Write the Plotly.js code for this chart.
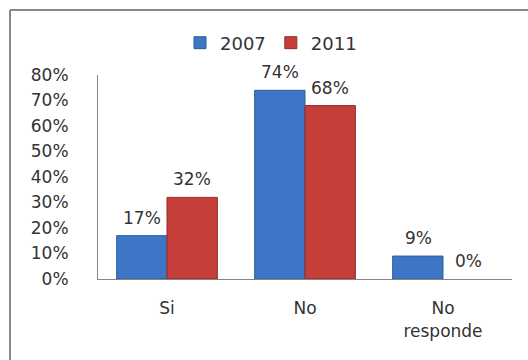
<!DOCTYPE html>
<html>
<head>
<meta charset="utf-8">
<script src="https://cdn.plot.ly/plotly-3.0.1.min.js"></script>
<style>html,body{margin:0;padding:0;background:#fff;}#chart{width:528px;height:360px;}</style>
</head>
<body>
<div id="chart"></div>
<script>
const categories = ["Si", "No", "No<br>responde"];
const seriesNames = ["2007", "2011"];
const values2007 = [0.17, 0.74, 0.09];
const values2011 = [0.32, 0.68, 0.00];
const yTickVals = [0, 0.1, 0.2, 0.3, 0.4, 0.5, 0.6, 0.7, 0.8];

const fontFam = "DejaVu Sans, sans-serif";
const txtCol = "#333333";

function pct(v){ return Math.round(v*100) + "%"; }

const traces = [
  {type:"bar", name:seriesNames[0], x:categories, y:values2007,
   marker:{color:"#3d76c6", line:{color:"#2f5e9c", width:values2007.map(v=>v>0?1:0)}}},
  {type:"bar", name:seriesNames[1], x:categories, y:values2011,
   marker:{color:"#c53e3a", line:{color:"#922c29", width:values2011.map(v=>v>0?1:0)}}}
];

const L=98, R=16, T=75, B=81, W=528, H=360;
const pw = W-L-R, ph = H-T-B;
function px2x(p){ return (p-L)/pw; }
function px2y(p){ return (H-B-p)/ph; }

const barHalf = 25;
const annotations = [];
[values2007, values2011].forEach((vals, si) => {
  vals.forEach((v, i) => {
    annotations.push({x:categories[i], y:v, xref:"x", yref:"y", text:pct(v), showarrow:false,
      xshift:(si===0?-barHalf:barHalf), yshift:6, yanchor:"bottom", xanchor:"center",
      font:{family:fontFam, size:17, color:txtCol}});
  });
});

const layout = {
  width:W, height:H,
  margin:{l:L, r:R, t:T, b:B, pad:0},
  paper_bgcolor:"#ffffff", plot_bgcolor:"#ffffff",
  font:{family:fontFam, size:17, color:txtCol},
  showlegend:true,
  legend:{orientation:"h", x:px2x(271), xanchor:"center", y:px2y(43), yanchor:"middle",
          font:{family:fontFam, size:18, color:txtCol}, itemwidth:30, tracegroupgap:0},
  bargap:0.27, bargroupgap:0,
  xaxis:{showline:true, linecolor:"#868686", linewidth:1, ticks:"", showgrid:false,
         tickfont:{family:fontFam, size:17, color:txtCol}, ticklabelstandoff:14, fixedrange:true},
  yaxis:{range:[0,0.8], tickvals:yTickVals, ticktext:yTickVals.map(pct),
         showline:true, linecolor:"#868686", linewidth:1, ticks:"", showgrid:false, zeroline:false,
         tickfont:{family:fontFam, size:17, color:txtCol}, ticklabelstandoff:25, fixedrange:true},
  annotations: annotations,
  shapes:[
    {type:"line", xref:"paper", yref:"paper", x0:px2x(10), x1:px2x(540), y0:px2y(10), y1:px2y(10),
     line:{color:"#878787", width:2}},
    {type:"line", xref:"paper", yref:"paper", x0:px2x(10), x1:px2x(10), y0:px2y(10), y1:px2y(370),
     line:{color:"#878787", width:2}}
  ]
};

Plotly.newPlot("chart", traces, layout, {staticPlot:true, displayModeBar:false});
</script>
</body>
</html>
